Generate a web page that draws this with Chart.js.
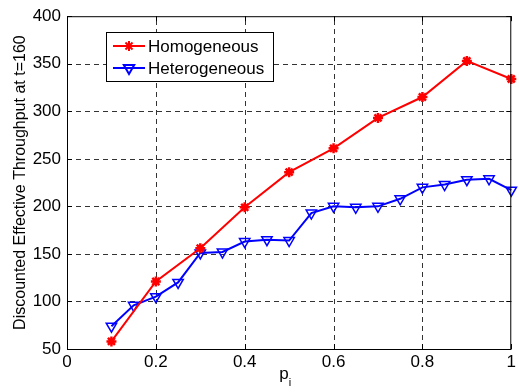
<!DOCTYPE html>
<html>
<head>
<meta charset="utf-8">
<script src="https://cdn.jsdelivr.net/npm/chart.js@4"></script>
<style>
  html, body { margin: 0; padding: 0; background: #fff; }
  #wrap { width: 519px; height: 392px; }
</style>
</head>
<body>
<div id="wrap"><canvas id="chart" width="519" height="392"></canvas></div>
<script>
const homX = [0.1, 0.2, 0.3, 0.4, 0.5, 0.6, 0.7, 0.8, 0.9, 1.0];
const homY = [58, 121, 156, 199, 236, 261, 293, 315, 353, 334];

const hetX = [0.1, 0.15, 0.2, 0.25, 0.3, 0.35, 0.4, 0.45, 0.5, 0.55, 0.6, 0.65, 0.7, 0.75, 0.8, 0.85, 0.9, 0.95, 1.0];
const hetY = [74, 96, 105, 120, 151, 152, 163, 165, 164, 193, 200, 199, 200, 208, 220, 223, 228, 229, 217];

const seriesNames = ['Homogeneous', 'Heterogeneous'];
const yTitle = 'Discounted Effective Throughput at t=160';

const FONT = "'Liberation Sans', Arial, sans-serif";

function pts(xs, ys) {
  return xs.map((x, i) => ({ x: x, y: ys[i] }));
}

// matlab style dashed grid, drawn from the scales' own ticks
const dashedGrid = {
  id: 'dashedGrid',
  beforeDatasetsDraw(chart) {
    const ctx = chart.ctx;
    const a = chart.chartArea;
    const xs = chart.scales.x, ys = chart.scales.y;
    ctx.save();
    ctx.strokeStyle = '#333';
    ctx.lineWidth = 1;
    ctx.setLineDash([5, 4]);
    xs.ticks.forEach((t, i) => {
      if (i === 0 || i === xs.ticks.length - 1) return;
      const px = Math.round(xs.getPixelForValue(t.value)) + 0.5;
      ctx.beginPath();
      ctx.moveTo(px, a.bottom);
      ctx.lineTo(px, a.top);
      ctx.stroke();
    });
    ys.ticks.forEach((t, i) => {
      if (i === 0 || i === ys.ticks.length - 1) return;
      const py = Math.round(ys.getPixelForValue(t.value)) + 0.5;
      ctx.beginPath();
      ctx.moveTo(a.left, py);
      ctx.lineTo(a.right, py);
      ctx.stroke();
    });
    ctx.restore();
  }
};

const matlabLook = {
  id: 'matlabLook',
  afterDraw(chart) {
    const ctx = chart.ctx;
    const a = chart.chartArea;
    const xs = chart.scales.x, ys = chart.scales.y;
    ctx.save();

    // axes box
    ctx.strokeStyle = '#000';
    ctx.lineWidth = 1;
    ctx.setLineDash([]);
    ctx.strokeRect(a.left + 0.5, a.top + 0.5, a.right - a.left - 1, a.bottom - a.top);

    // inward tick marks on all four sides
    const tl = 5;
    ctx.beginPath();
    xs.ticks.forEach((t) => {
      const px = Math.round(xs.getPixelForValue(t.value)) + 0.5;
      ctx.moveTo(px, a.bottom);
      ctx.lineTo(px, a.bottom - tl);
      ctx.moveTo(px, a.top);
      ctx.lineTo(px, a.top + tl);
    });
    ys.ticks.forEach((t) => {
      const py = Math.round(ys.getPixelForValue(t.value)) + 0.5;
      ctx.moveTo(a.left, py);
      ctx.lineTo(a.left + tl, py);
      ctx.moveTo(a.right, py);
      ctx.lineTo(a.right - tl, py);
    });
    ctx.stroke();

    // y title
    ctx.fillStyle = '#000';
    ctx.font = '16px ' + FONT;
    ctx.textAlign = 'center';
    ctx.textBaseline = 'middle';
    ctx.save();
    ctx.translate(21, (a.top + a.bottom) / 2);
    ctx.rotate(-Math.PI / 2);
    ctx.fillText(yTitle, 0, 0);
    ctx.restore();

    // x title p_i
    ctx.textAlign = 'left';
    ctx.textBaseline = 'alphabetic';
    ctx.font = '17px ' + FONT;
    const cx = (a.left + a.right) / 2;
    ctx.fillText('p', cx - 10, 379);
    ctx.font = '11px ' + FONT;
    ctx.fillText('i', cx - 0.5, 386);

    // legend
    const lx = 106, ly = 32, lw = 167, lh = 49;
    ctx.fillStyle = '#fff';
    ctx.fillRect(lx, ly, lw, lh);
    ctx.strokeStyle = '#000';
    ctx.lineWidth = 1;
    ctx.strokeRect(lx + 0.5, ly + 0.5, lw, lh);

    const rows = [46, 68];
    chart.data.datasets.forEach((ds, i) => {
      const y = rows[i];
      ctx.strokeStyle = ds.borderColor;
      ctx.lineWidth = 2;
      ctx.beginPath();
      ctx.moveTo(113, y);
      ctx.lineTo(145, y);
      ctx.stroke();
      ctx.fillStyle = ds.backgroundColor;
      ctx.strokeStyle = ds.pointBorderColor;
      Chart.helpers.drawPoint(ctx, {
        pointStyle: ds.pointStyle,
        rotation: ds.pointRotation || 0,
        radius: ds.pointRadius,
        borderWidth: ds.pointBorderWidth
      }, 129, y);
      ctx.fillStyle = '#000';
      ctx.font = '17px ' + FONT;
      ctx.textBaseline = 'middle';
      ctx.fillText(ds.label, 148, y + 1);
    });

    ctx.restore();
  }
};

new Chart(document.getElementById('chart'), {
  type: 'line',
  data: {
    datasets: [
      {
        label: seriesNames[0],
        data: pts(homX, homY),
        borderColor: '#ff0000',
        backgroundColor: '#ff0000',
        borderWidth: 2,
        pointStyle: 'star',
        pointRadius: 5,
        pointBorderWidth: 2.5,
        pointBorderColor: '#ff0000',
        fill: false,
        clip: false,
        tension: 0
      },
      {
        label: seriesNames[1],
        data: pts(hetX, hetY),
        borderColor: '#0000ff',
        backgroundColor: 'rgba(0,0,0,0)',
        borderWidth: 2,
        pointStyle: 'triangle',
        pointRotation: 180,
        pointRadius: 6,
        pointBorderWidth: 1.5,
        pointBorderColor: '#0000ff',
        fill: false,
        clip: false,
        tension: 0
      }
    ]
  },
  options: {
    responsive: false,
    devicePixelRatio: 1,
    animation: false,
    layout: { padding: { top: 8, right: 6, left: 0, bottom: 0 } },
    plugins: {
      legend: { display: false },
      tooltip: { enabled: false }
    },
    scales: {
      x: {
        type: 'linear',
        min: 0,
        max: 1,
        afterFit: (s) => { s.height = 43; },
        ticks: {
          stepSize: 0.2,
          color: '#000',
          padding: 3,
          maxRotation: 0,
          font: { family: FONT, size: 17 },
          callback: (v) => (v === 0 || v === 1) ? String(v) : Number(v).toFixed(1)
        },
        grid: { display: false, drawTicks: false },
        border: { display: false }
      },
      y: {
        min: 50,
        max: 400,
        afterFit: (s) => { s.width = 67; },
        ticks: {
          stepSize: 50,
          color: '#000',
          padding: 6,
          font: { family: FONT, size: 17 }
        },
        grid: { display: false, drawTicks: false },
        border: { display: false }
      }
    }
  },
  plugins: [dashedGrid, matlabLook]
});
</script>
</body>
</html>
